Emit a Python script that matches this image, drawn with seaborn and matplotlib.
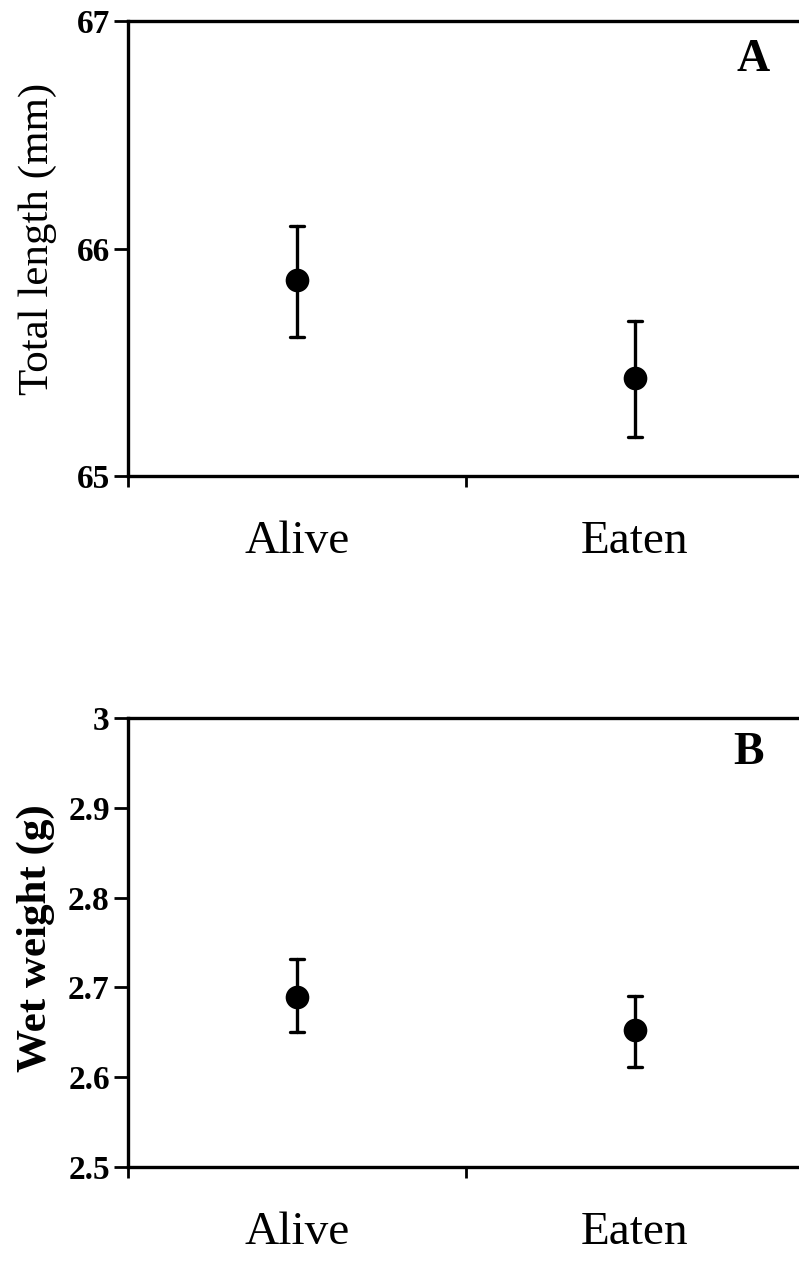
import pandas as pd
import seaborn as sns
import matplotlib.pyplot as plt
from matplotlib.ticker import FixedLocator

groups = ['Alive', 'Eaten']

length_mean = [65.86, 65.43]
length_low = [65.61, 65.17]
length_high = [66.10, 65.68]

weight_mean = [2.689, 2.652]
weight_low = [2.650, 2.611]
weight_high = [2.732, 2.690]

length_ticks = [65, 66, 67]
weight_ticks = [2.5, 2.6, 2.7, 2.8, 2.9, 3.0]
weight_ticklabels = ['2.5', '2.6', '2.7', '2.8', '2.9', '3']


def long_form(mean, low, high):
    rows = []
    for g, m, lo, hi in zip(groups, mean, low, high):
        for v in (lo, m, hi):
            rows.append({'group': g, 'value': v})
    return pd.DataFrame(rows)


def draw_panel(ax, df, ylim, yticks, yticklabels, ylabel, letter, bold_label, letter_xy, label_xy):
    sns.pointplot(
        data=df, x='group', y='value', order=groups, ax=ax,
        estimator='median', errorbar=lambda v: (v.min(), v.max()),
        linestyle='none', color='black', markers='o', markersize=15,
        capsize=0.04, err_kws={'linewidth': 2.4},
    )
    ax.set_xlim(-0.5, 1.5)
    ax.set_ylim(*ylim)
    ax.set_yticks(yticks)
    ax.set_yticklabels(yticklabels, fontweight='bold', fontsize=24)
    ax.tick_params(axis='y', length=10, width=2, pad=3, direction='out', colors='black')
    ax.set_xticks([0, 1])
    ax.set_xticklabels(groups, fontsize=34)
    ax.tick_params(axis='x', which='major', length=0, pad=32, colors='black')
    ax.xaxis.set_minor_locator(FixedLocator([-0.5, 0.5, 1.5]))
    ax.tick_params(axis='x', which='minor', length=8, width=2, direction='out', colors='black')
    ax.set_xlabel('')
    ax.set_ylabel(ylabel, fontsize=31, color='black',
                  fontweight='bold' if bold_label else 'normal')
    ax.yaxis.set_label_coords(*label_xy)
    for side in ('left', 'bottom', 'top'):
        ax.spines[side].set_linewidth(2.4)
        ax.spines[side].set_color('black')
    ax.spines['right'].set_visible(False)
    ax.text(letter_xy[0], letter_xy[1], letter, transform=ax.transAxes,
            fontsize=33, fontweight='bold', ha='center', va='center', color='black')


sns.set_style('ticks')
plt.rcParams['font.family'] = ['Liberation Serif', 'DejaVu Serif']
plt.rcParams['text.color'] = 'black'

fig = plt.figure(figsize=(7.99, 12.68), dpi=100)
ax_a = fig.add_axes([0.160, 0.6246, 0.846, 0.3588])
ax_b = fig.add_axes([0.160, 0.0797, 0.846, 0.3541])

draw_panel(ax_a, long_form(length_mean, length_low, length_high), (65, 67),
           length_ticks, [str(t) for t in length_ticks], 'Total length (mm)', 'A',
           False, (0.925, 0.914), (-0.105, 0.52))
draw_panel(ax_b, long_form(weight_mean, weight_low, weight_high), (2.5, 3.0),
           weight_ticks, weight_ticklabels, 'Wet weight (g)', 'B',
           True, (0.918, 0.922), (-0.108, 0.51))

fig.savefig('out.png', dpi=100)
plt.close(fig)
